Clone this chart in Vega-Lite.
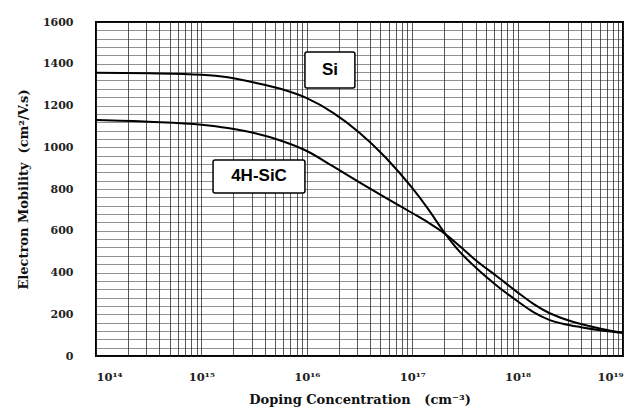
{
  "$schema": "https://vega.github.io/schema/vega-lite/v6.json",
  "width": 527,
  "height": 334,
  "autosize": {"type": "none"},
  "padding": {"left": 96, "top": 22, "right": 14, "bottom": 61},
  "background": "white",
  "config": {
    "view": {"stroke": "black", "strokeWidth": 2},
    "font": "DejaVu Serif"
  },
  "datasets": {
    "curves": [
      {"material": "Si", "conc": 1e14, "mobility": 1357},
      {"material": "Si", "conc": 3.162e14, "mobility": 1354},
      {"material": "Si", "conc": 1e15, "mobility": 1347},
      {"material": "Si", "conc": 1.778e15, "mobility": 1335},
      {"material": "Si", "conc": 3.162e15, "mobility": 1310},
      {"material": "Si", "conc": 5.623e15, "mobility": 1280},
      {"material": "Si", "conc": 1e16, "mobility": 1235},
      {"material": "Si", "conc": 1.778e16, "mobility": 1165},
      {"material": "Si", "conc": 3.162e16, "mobility": 1070},
      {"material": "Si", "conc": 5.623e16, "mobility": 950},
      {"material": "Si", "conc": 1e17, "mobility": 805},
      {"material": "Si", "conc": 1.413e17, "mobility": 705},
      {"material": "Si", "conc": 1.995e17, "mobility": 595},
      {"material": "Si", "conc": 2.818e17, "mobility": 500},
      {"material": "Si", "conc": 3.981e17, "mobility": 425},
      {"material": "Si", "conc": 6.31e17, "mobility": 338},
      {"material": "Si", "conc": 1e18, "mobility": 262},
      {"material": "Si", "conc": 1.413e18, "mobility": 210},
      {"material": "Si", "conc": 1.995e18, "mobility": 173},
      {"material": "Si", "conc": 2.818e18, "mobility": 152},
      {"material": "Si", "conc": 3.981e18, "mobility": 138},
      {"material": "Si", "conc": 6.31e18, "mobility": 122},
      {"material": "Si", "conc": 1e19, "mobility": 110},
      {"material": "4H-SiC", "conc": 1e14, "mobility": 1130},
      {"material": "4H-SiC", "conc": 3.162e14, "mobility": 1122},
      {"material": "4H-SiC", "conc": 1e15, "mobility": 1108},
      {"material": "4H-SiC", "conc": 1.778e15, "mobility": 1092},
      {"material": "4H-SiC", "conc": 3.162e15, "mobility": 1068},
      {"material": "4H-SiC", "conc": 5.623e15, "mobility": 1032},
      {"material": "4H-SiC", "conc": 1e16, "mobility": 982},
      {"material": "4H-SiC", "conc": 1.778e16, "mobility": 908},
      {"material": "4H-SiC", "conc": 3.162e16, "mobility": 832},
      {"material": "4H-SiC", "conc": 5.623e16, "mobility": 758},
      {"material": "4H-SiC", "conc": 1e17, "mobility": 685},
      {"material": "4H-SiC", "conc": 1.413e17, "mobility": 640},
      {"material": "4H-SiC", "conc": 1.995e17, "mobility": 590},
      {"material": "4H-SiC", "conc": 2.818e17, "mobility": 527},
      {"material": "4H-SiC", "conc": 3.981e17, "mobility": 460},
      {"material": "4H-SiC", "conc": 6.31e17, "mobility": 383},
      {"material": "4H-SiC", "conc": 1e18, "mobility": 305},
      {"material": "4H-SiC", "conc": 1.413e18, "mobility": 250},
      {"material": "4H-SiC", "conc": 1.995e18, "mobility": 206},
      {"material": "4H-SiC", "conc": 2.818e18, "mobility": 176},
      {"material": "4H-SiC", "conc": 3.981e18, "mobility": 153},
      {"material": "4H-SiC", "conc": 6.31e18, "mobility": 130},
      {"material": "4H-SiC", "conc": 1e19, "mobility": 112}
    ],
    "labels": [
      {"label": "Si", "x1": 9.6e15, "x2": 2.86e16, "y1": 1284, "y2": 1456, "xc": 1.66e16, "yc": 1370},
      {"label": "4H-SiC", "x1": 1.29e15, "x2": 9.6e15, "y1": 781, "y2": 939, "xc": 3.52e15, "yc": 860}
    ]
  },
  "layer": [
    {
      "data": {"name": "curves"},
      "mark": {"type": "line", "color": "black", "strokeWidth": 2, "interpolate": "monotone"},
      "encoding": {
        "x": {
          "field": "conc", "type": "quantitative",
          "scale": {"type": "log", "domain": [1e14, 1e19], "nice": false},
          "axis": {
            "title": "Doping Concentration\u00a0\u00a0\u00a0(cm⁻³)",
            "tickCount": 200,
            "values": [1e14,2e14,3e14,4e14,5e14,6e14,7e14,8e14,9e14,
                       1e15,2e15,3e15,4e15,5e15,6e15,7e15,8e15,9e15,
                       1e16,2e16,3e16,4e16,5e16,6e16,7e16,8e16,9e16,
                       1e17,2e17,3e17,4e17,5e17,6e17,7e17,8e17,9e17,
                       1e18,2e18,3e18,4e18,5e18,6e18,7e18,8e18,9e18,1e19],
            "labelExpr": "datum.value == 1e14 ? '10¹⁴' : datum.value == 1e15 ? '10¹⁵' : datum.value == 1e16 ? '10¹⁶' : datum.value == 1e17 ? '10¹⁷' : datum.value == 1e18 ? '10¹⁸' : datum.value == 1e19 ? '10¹⁹' : ''",
            "labelOverlap": false,
            "grid": true, "gridColor": "#222", "gridOpacity": 0.75, "gridWidth": 1,
            "ticks": false, "domain": false,
            "labelPadding": 15, "labelFont": "DejaVu Serif", "labelFontSize": 11.5, "labelFontWeight": "bold", "labelColor": "#222",
            "titleFont": "DejaVu Serif", "titleFontSize": 13, "titleFontWeight": "bold", "titlePadding": 11, "titleColor": "#111"
          }
        },
        "y": {
          "field": "mobility", "type": "quantitative",
          "scale": {"domain": [0, 1600], "nice": false},
          "axis": {
            "title": "Electron Mobility\u00a0\u00a0(cm²/V.s)",
            "tickCount": 200,
            "values": [0,40,80,120,160,200,240,280,320,360,400,440,480,520,560,600,640,680,720,760,800,840,880,920,960,1000,1040,1080,1120,1160,1200,1240,1280,1320,1360,1400,1440,1480,1520,1560,1600],
            "labelExpr": "datum.value % 200 == 0 ? '' + datum.value : ''",
            "labelOverlap": false,
            "grid": true, "gridColor": "#222", "gridOpacity": 0.5, "gridWidth": 1,
            "ticks": false, "domain": false,
            "labelPadding": 23, "labelFont": "DejaVu Serif", "labelFontSize": 11, "labelFontWeight": "bold", "labelColor": "#222",
            "titleFont": "DejaVu Serif", "titleFontSize": 13, "titleFontWeight": "bold", "titlePadding": 12, "titleColor": "#111"
          }
        },
        "detail": {"field": "material", "type": "nominal"}
      }
    },
    {
      "data": {"name": "labels"},
      "mark": {"type": "rect", "fill": "white", "stroke": "black", "strokeWidth": 1.5, "cornerRadius": 2},
      "encoding": {
        "x": {"field": "x1", "type": "quantitative"},
        "x2": {"field": "x2"},
        "y": {"field": "y1", "type": "quantitative"},
        "y2": {"field": "y2"}
      }
    },
    {
      "data": {"name": "labels"},
      "mark": {"type": "text", "font": "Liberation Sans", "fontSize": 17, "fontWeight": "bold", "color": "black", "align": "center", "baseline": "middle"},
      "encoding": {
        "x": {"field": "xc", "type": "quantitative"},
        "y": {"field": "yc", "type": "quantitative"},
        "text": {"field": "label"}
      }
    }
  ]
}
